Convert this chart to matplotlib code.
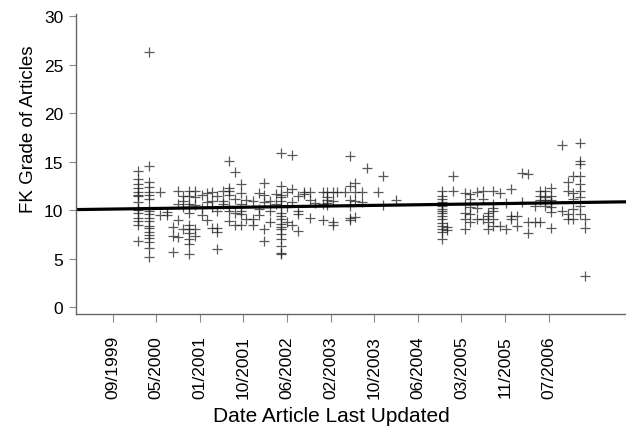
import matplotlib
matplotlib.use('Agg')
from matplotlib import pyplot as plt
import numpy as np

plt.rcParams['font.family'] = ['Liberation Sans', 'DejaVu Sans']

# update date (decimal year) of each group of articles, and their FK grades
col_year = [2000.09, 2000.27, 2000.44, 2000.55, 2000.64, 2000.73, 2000.81,
            2000.90, 2000.99, 2001.10, 2001.18, 2001.26, 2001.34, 2001.43,
            2001.53, 2001.62, 2001.71, 2001.80, 2001.90, 2001.99, 2002.08,
            2002.17, 2002.26, 2002.34, 2002.43, 2002.51, 2002.61, 2002.70,
            2002.80, 2002.88, 2003.00, 2003.07, 2003.16, 2003.22, 2003.35,
            2003.43, 2003.50, 2003.61, 2003.69, 2003.87, 2003.94, 2004.15,
            2004.87, 2004.95, 2005.04, 2005.23, 2005.31, 2005.42, 2005.51,
            2005.59, 2005.67, 2005.78, 2005.88, 2005.95, 2006.05, 2006.13,
            2006.22, 2006.33, 2006.41, 2006.49, 2006.58, 2006.75, 2006.85,
            2006.93, 2007.03, 2007.12]

col_grades = [
    [14.0, 13.2, 12.7, 12.3, 11.9, 11.6, 11.4, 10.8, 10.2, 10.0, 9.7, 9.2, 8.9, 8.5, 6.8],
    [26.3, 14.5, 12.9, 12.4, 11.9, 11.6, 11.1, 10.1, 9.9, 9.6, 9.2, 8.9, 8.4, 8.1,
     7.7, 7.4, 7.1, 6.7, 6.1, 5.2],
    [11.9, 9.5],
    [9.5, 9.8],
    [8.3, 5.7, 7.3],
    [12.0, 10.6, 9.0, 7.2],
    [10.9, 10.3, 11.5, 8.0],
    [12.0, 11.5, 10.6, 10.3, 9.7, 8.5, 8.0, 7.6, 7.0, 6.5, 5.5],
    [12.0, 11.3, 10.5, 8.0, 7.3],
    [11.6, 10.2, 9.5],
    [11.8, 10.8, 9.0],
    [11.9, 10.9, 10.3, 8.1],
    [11.5, 9.9, 8.1, 7.7, 6.0],
    [10.9, 10.6, 12.0],
    [15.1, 12.3, 12.0, 11.6, 10.4, 9.9, 8.9],
    [13.9, 11.1, 9.7, 8.5],
    [12.7, 11.8, 10.6, 9.9, 9.6, 8.5],
    [9.1, 11.0],
    [10.9, 9.1, 8.5],
    [11.8, 10.1, 9.5],
    [12.8, 11.6, 10.8, 8.0, 6.8],
    [10.9, 9.9, 8.8],
    [11.7, 10.6],
    [15.9, 12.5, 11.6, 11.3, 10.9, 10.4, 9.7, 9.4, 9.1, 8.6, 8.3, 8.0, 7.5, 7.0,
     6.3, 5.6, 5.5],
    [11.9, 10.3, 8.8],
    [15.7, 12.2, 10.8, 8.5],
    [11.5, 9.9, 9.6, 7.8],
    [11.9, 11.7],
    [11.9, 11.0, 9.2],
    [10.7],
    [11.9, 10.6, 9.0],
    [11.9, 11.3, 11.0, 10.7, 10.5],
    [11.9, 10.9, 8.8, 8.5],
    [11.9],
    [11.9],
    [15.6, 12.5, 11.0, 10.4, 9.2, 9.0],
    [12.8, 11.9, 10.9, 9.3],
    [11.9, 10.8],
    [14.3],
    [11.9],
    [13.5, 10.5],
    [11.0],
    [12.0, 11.5, 11.1, 10.8, 10.6, 10.4, 10.1, 9.9, 9.7, 9.4, 9.1, 8.7, 8.4, 8.0, 7.7, 7.0],
    [7.9, 8.3],
    [13.5, 12.0],
    [11.8, 10.6, 9.7, 9.1, 8.0],
    [11.7, 11.1, 10.3, 9.6, 8.8],
    [11.9, 10.2, 9.1],
    [12.0, 11.1, 9.1],
    [9.7, 9.4, 8.8, 8.0],
    [12.0, 10.6, 10.2, 9.9, 9.1, 8.4],
    [11.8, 8.4],
    [10.7, 8.0],
    [12.2, 9.4, 9.1],
    [9.4, 8.4],
    [13.8, 10.8],
    [13.7, 8.8, 7.6],
    [10.4, 8.8],
    [12.0, 11.5, 11.0, 8.8],
    [12.0, 11.3, 11.0, 10.4],
    [12.3, 11.5, 11.0, 10.7, 10.3, 9.8, 8.2],
    [16.7, 9.9],
    [12.9, 12.0, 9.6, 9.1],
    [13.5, 11.8, 11.1, 10.1, 9.1],
    [16.9, 15.1, 14.7, 13.5, 12.7, 12.0, 11.3, 10.4, 9.6],
    [9.1, 8.2, 3.2],
]

# linear fit: grade = intercept + slope * (year - 2000)
fit_intercept = 10.13
fit_slope = 0.0926

tick_labels = ['09/1999', '05/2000', '01/2001', '10/2001', '06/2002', '02/2003',
               '10/2003', '06/2004', '03/2005', '11/2005', '07/2006']

x = np.concatenate([[yr] * len(g) for yr, g in zip(col_year, col_grades)])
y = np.concatenate(col_grades)

fig = plt.figure(figsize=(6.26, 4.31), dpi=100)
ax = fig.add_axes([0.1214, 0.269, 0.8786, 0.696])

ax.plot(x, y, '+', color='#222222', alpha=0.75, markersize=7.5, markeredgewidth=0.9)

xmin, xmax = 1999.124, 2007.76
xs = np.array([xmin, xmax])
ax.plot(xs, fit_intercept + fit_slope * (xs - 2000), color='black', linewidth=2.3)

ax.set_xlim(xmin, xmax)
ax.set_ylim(-0.72, 30.2)

tick_pos = 1999.70 + 0.6845 * np.arange(len(tick_labels))
ax.set_xticks(tick_pos)
ax.set_xticklabels(tick_labels, rotation=90, fontsize=12.5)
ax.set_yticks([0, 5, 10, 15, 20, 25, 30])
ax.tick_params(axis='y', labelsize=12.5, length=5, color='#888888', pad=4)
ax.tick_params(axis='x', length=6, color='#888888', pad=9)

for side in ['top', 'right']:
    ax.spines[side].set_visible(False)
for side in ['left', 'bottom']:
    ax.spines[side].set_color('#666666')
    ax.spines[side].set_linewidth(1.0)

ax.set_xlabel('Date Article Last Updated', fontsize=15)
ax.set_ylabel('FK Grade of Articles', fontsize=13.5)
ax.xaxis.set_label_coords(0.4636, -0.307)
ax.yaxis.set_label_coords(-0.071, 0.62)

plt.savefig('out.png', dpi=100)
